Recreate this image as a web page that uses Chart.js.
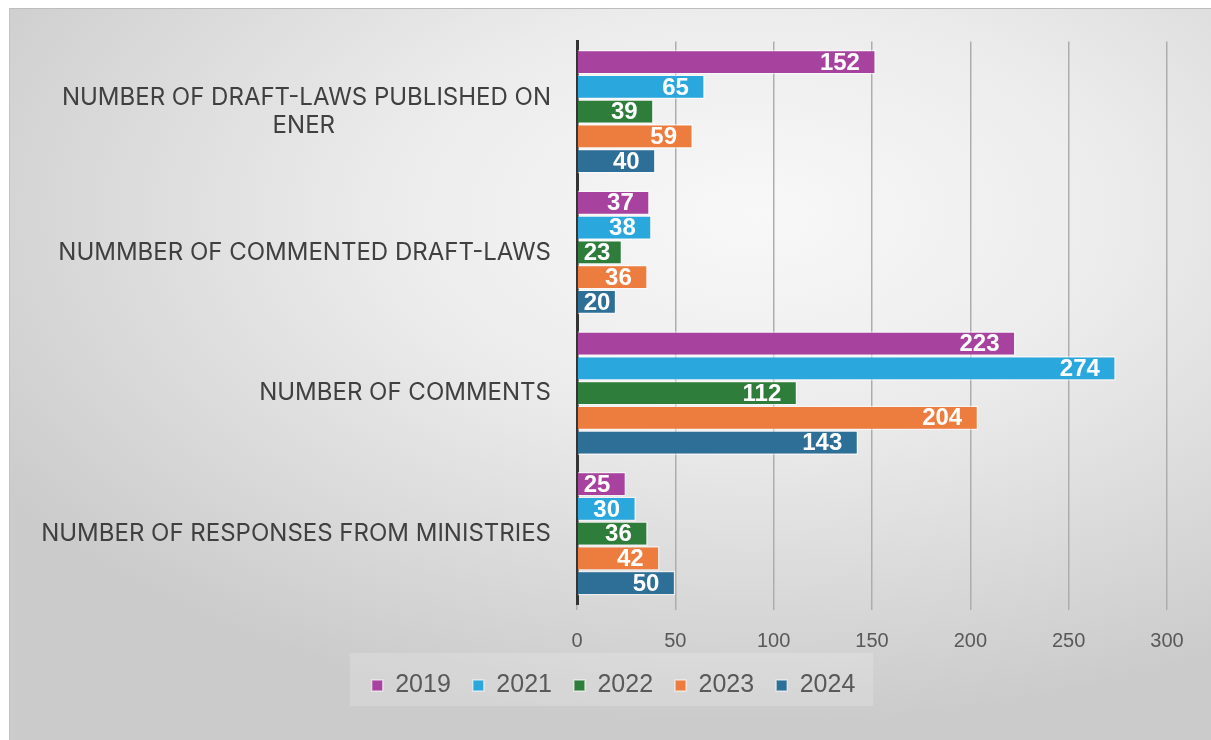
<!DOCTYPE html>
<html>
<head>
<meta charset="utf-8">
<script src="https://cdn.jsdelivr.net/npm/chart.js@4"></script>
<style>
  html, body { margin: 0; padding: 0; background: #fff; }
  #wrap {
    position: absolute; left: 9px; top: 8px; width: 1202px; height: 732px;
    border-top: 1px solid #bdbdbd; border-left: 1px solid #c4c4c4;
    background: radial-gradient(ellipse 75% 70% at 62% 28%, #f8f8f8 0%, #ececec 40%, #d6d6d6 80%, #cbcbcb 100%);
    box-sizing: border-box;
  }
  #chart { display: block; }
</style>
</head>
<body>
<div id="wrap"><canvas id="chart" width="1201" height="731"></canvas></div>
<script>
// categories (top to bottom)
const categories = [
    ["NUMBER OF DRAFT-LAWS PUBLISHED ON", "ENER"],
    "NUMMBER OF COMMENTED DRAFT-LAWS",
    "NUMBER OF COMMENTS",
    "NUMBER OF RESPONSES FROM MINISTRIES",
];

const years = ["2019", "2021", "2022", "2023", "2024"];
const colors = ["#a8429f", "#2aa8de", "#2f7d3b", "#ed7d3f", "#2d6f96"];

const values2019 = [152, 37, 223, 25];
const values2021 = [65, 38, 274, 30];
const values2022 = [39, 23, 112, 36];
const values2023 = [59, 36, 204, 42];
const values2024 = [40, 20, 143, 50];

const xTicks = [0, 50, 100, 150, 200, 250, 300];

const labelFont = "24px Inter";
const seriesValues = [values2019, values2021, values2022, values2023, values2024];

// center second line of a two-line label under the first one
const measureCtx = document.createElement("canvas").getContext("2d");
measureCtx.font = labelFont;
function centerLines(lbl) {
    if (!Array.isArray(lbl)) return lbl;
    const w1 = measureCtx.measureText(lbl[0]).width;
    const w2 = measureCtx.measureText(lbl[1]).width;
    const sp = measureCtx.measureText(" ").width;
    const n = Math.round((w1 - w2) / 2 / sp);
    return [lbl[0], lbl[1] + " ".repeat(n)];
}

const barLabels = {
    id: "barLabels",
    afterDatasetsDraw(chart) {
        const ctx = chart.ctx;
        ctx.save();
        ctx.font = "bold 24px 'Liberation Sans'";
        ctx.fillStyle = "#ffffff";
        ctx.textAlign = "right";
        ctx.textBaseline = "middle";
        chart.data.datasets.forEach((ds, i) => {
            chart.getDatasetMeta(i).data.forEach((bar, j) => {
                const txt = String(ds.data[j]);
                const w = ctx.measureText(txt).width;
                const x = Math.max(bar.x - 16, bar.base + 6 + w);
                ctx.fillText(txt, x, bar.y + 1);
            });
        });
        ctx.restore();
    }
};

// legend sits a little right of the canvas centre, with a faint box behind it
const legendShift = 25;
const legendBg = {
    id: "legendBg",
    afterUpdate(chart) {
        const lg = chart.legend;
        lg.left += legendShift;
        lg.right += legendShift;
        lg.legendHitBoxes.forEach(b => { b.left += legendShift; });
    },
    beforeDraw(chart) {
        const lg = chart.legend;
        if (!lg) return;
        const ctx = chart.ctx;
        ctx.save();
        ctx.fillStyle = "rgba(255,255,255,0.18)";
        let w = 0;
        lg.legendHitBoxes.forEach(b => { w = Math.max(w, b.left + b.width); });
        const left = lg.legendHitBoxes[0].left - 22;
        ctx.fillRect(left, lg.top + 2, w - left + 18, lg.height - 4);
        ctx.restore();
    }
};

const chart = new Chart(document.getElementById("chart"), {
    type: "bar",
    data: {
        labels: categories,
        datasets: years.map((y, i) => ({
            label: y,
            data: seriesValues[i],
            backgroundColor: colors[i],
            borderColor: "rgba(255,255,255,0.55)",
            borderWidth: 1.5,
            categoryPercentage: 0.88,
            barPercentage: 1.0,
        })),
    },
    options: {
        indexAxis: "y",
        responsive: false,
        animation: false,
        devicePixelRatio: 1,
        layout: { padding: { top: 27, right: 44, bottom: 32, left: 0 } },
        plugins: {
            tooltip: { enabled: false },
            legend: {
                position: "bottom",
                labels: {
                    font: { family: "'Liberation Sans'", size: 25 },
                    color: "#595959",
                    boxWidth: 11,
                    boxHeight: 11,
                    padding: 22,
                },
            },
        },
        scales: {
            x: {
                min: 0,
                max: 300,
                ticks: {
                    stepSize: 50,
                    font: { family: "'Liberation Sans'", size: 20 },
                    color: "#595959",
                    padding: 19,
                },
                afterBuildTicks(scale) {
                    scale.ticks = xTicks.map(v => ({ value: v }));
                },
                grid: { color: "#adadad", lineWidth: 1.5, tickLength: 6 },
                border: { display: false },
                afterFit(scale) { scale.height = 47; },
            },
            y: {
                ticks: {
                    font: { family: "Inter", size: 24 },
                    color: "#404040",
                    padding: 18,
                    autoSkip: false,
                    callback(value) { return centerLines(categories[value]); },
                },
                grid: { display: false },
                border: { color: "#333333", width: 3 },
                afterFit(scale) { scale.width = 567; },
            },
        },
    },
    plugins: [barLabels, legendBg],
});
</script>
</body>
</html>
